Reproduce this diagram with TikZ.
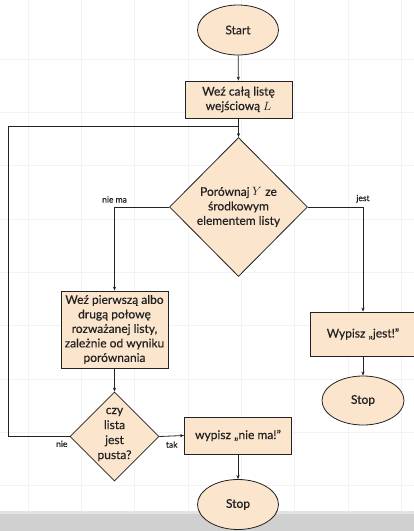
\documentclass[tikz,border=0pt]{standalone}
\usepackage{fontspec}
\setmainfont{Lato}[FakeBold=0.5]
\setsansfont{Lato}[FakeBold=0.5]
\usepackage{unicode-math}
\setmathfont{Latin Modern Math}
\usetikzlibrary{shapes.geometric,arrows.meta}
\definecolor{peach}{HTML}{FCE5CD}
\definecolor{ink}{HTML}{222222}
\definecolor{gridc}{HTML}{F3F3F3}
\definecolor{band}{HTML}{D0D0D0}
\tikzset{
  every node/.style={text=ink},
  base/.style={draw=ink, line width=0.8pt, fill=peach, font=\fontsize{12}{14.5}\selectfont, align=center, inner sep=0pt},
  term/.style={base, ellipse, minimum width=81pt, minimum height=50pt},
  proc/.style={base, rectangle, minimum width=107pt},
  dec/.style={base, diamond},
  txt/.style={font=\fontsize{12}{15}\selectfont, align=center, inner sep=0pt},
  lbl/.style={font=\fontsize{8.5}{10}\selectfont, inner sep=1pt},
  conn/.style={draw=ink, line width=0.8pt},
  arr/.style={conn, -{Stealth[length=4pt,width=3.2pt]}},
}
\begin{document}
\begin{tikzpicture}[x=1pt,y=-1pt]
\clip (0,0) rectangle (414,531);
\useasboundingbox (0,0) rectangle (414,531);
\fill[white] (0,0) rectangle (414,531);
% faint grid
\foreach \gx in {28,81.3,134.6,187.9,241.2,294.5,347.8,401.1}
  \draw[gridc, line width=0.6pt] (\gx,0) -- (\gx,531);
\foreach \gy in {59,112.3,165.6,218.9,272.2,325.5,378.8,432.1,485.4}
  \draw[gridc, line width=0.6pt] (0,\gy) -- (414,\gy);
% bottom band
\fill[band] (0,512) rectangle (414,531);
\fill[band!60!white] (0,511) rectangle (414,513.5);

\node[term] (start) at (238,30) {Start};
\node[proc, minimum height=37pt] (box1) at (238.5,99.5) {Weź całą listę\\wejściową $L$};
\coordinate (j) at (238.5,126);
\node[dec, minimum width=138pt, minimum height=139pt] (d1) at (238.5,207) {Porównaj $Y$ ze\\środkowym\\elementem listy};
\node[proc, minimum height=77pt] (box2) at (114.5,329.5) {Weź pierwszą albo\\drugą połowę\\rozważanej listy,\\zależnie od wyniku\\porównania};
\node[proc, minimum width=106pt, minimum height=44pt] (box3) at (363,334) {Wypisz „jest!"};
\node[term, minimum width=82pt, minimum height=49pt] (stop1) at (363,400.5) {Stop};
\node[dec, minimum width=89pt, minimum height=89pt] (d2) at (114.5,436.5) {};
\node[txt] (d2t) at (114.5,434.5) {czy\\lista\\jest\\pusta?};
\node[proc, minimum height=37pt] (box4) at (238,435.5) {wypisz „nie ma!"};
\node[term] (stop2) at (238,504.5) {Stop};

\draw[arr] (start) -- (box1);
\draw[arr] (box1) -- (d1);
\draw[arr] (d1.west) -| (box2.north) node[pos=0.5, anchor=south, lbl, yshift=3pt] (lnm) {nie ma};
\draw[arr] (d1.east) -| (box3.north) node[pos=0.5, anchor=south, lbl, yshift=3pt] (ljest) {jest};
\draw[arr] (box3) -- (stop1);
\draw[arr] (box2) -- (d2);
\draw[arr] (d2.east) -- (box4.west) node[pos=0.5, anchor=north, lbl, yshift=-4pt] (ltak) {tak};
\draw[arr] (box4) -- (stop2);
\draw[conn] (d2.west) -- ++(-61.5,0) |- (j);
\node[lbl, anchor=north east] (lnie) at ([xshift=-1pt,yshift=-3pt]d2.west) {nie};
\end{tikzpicture}
\end{document}
